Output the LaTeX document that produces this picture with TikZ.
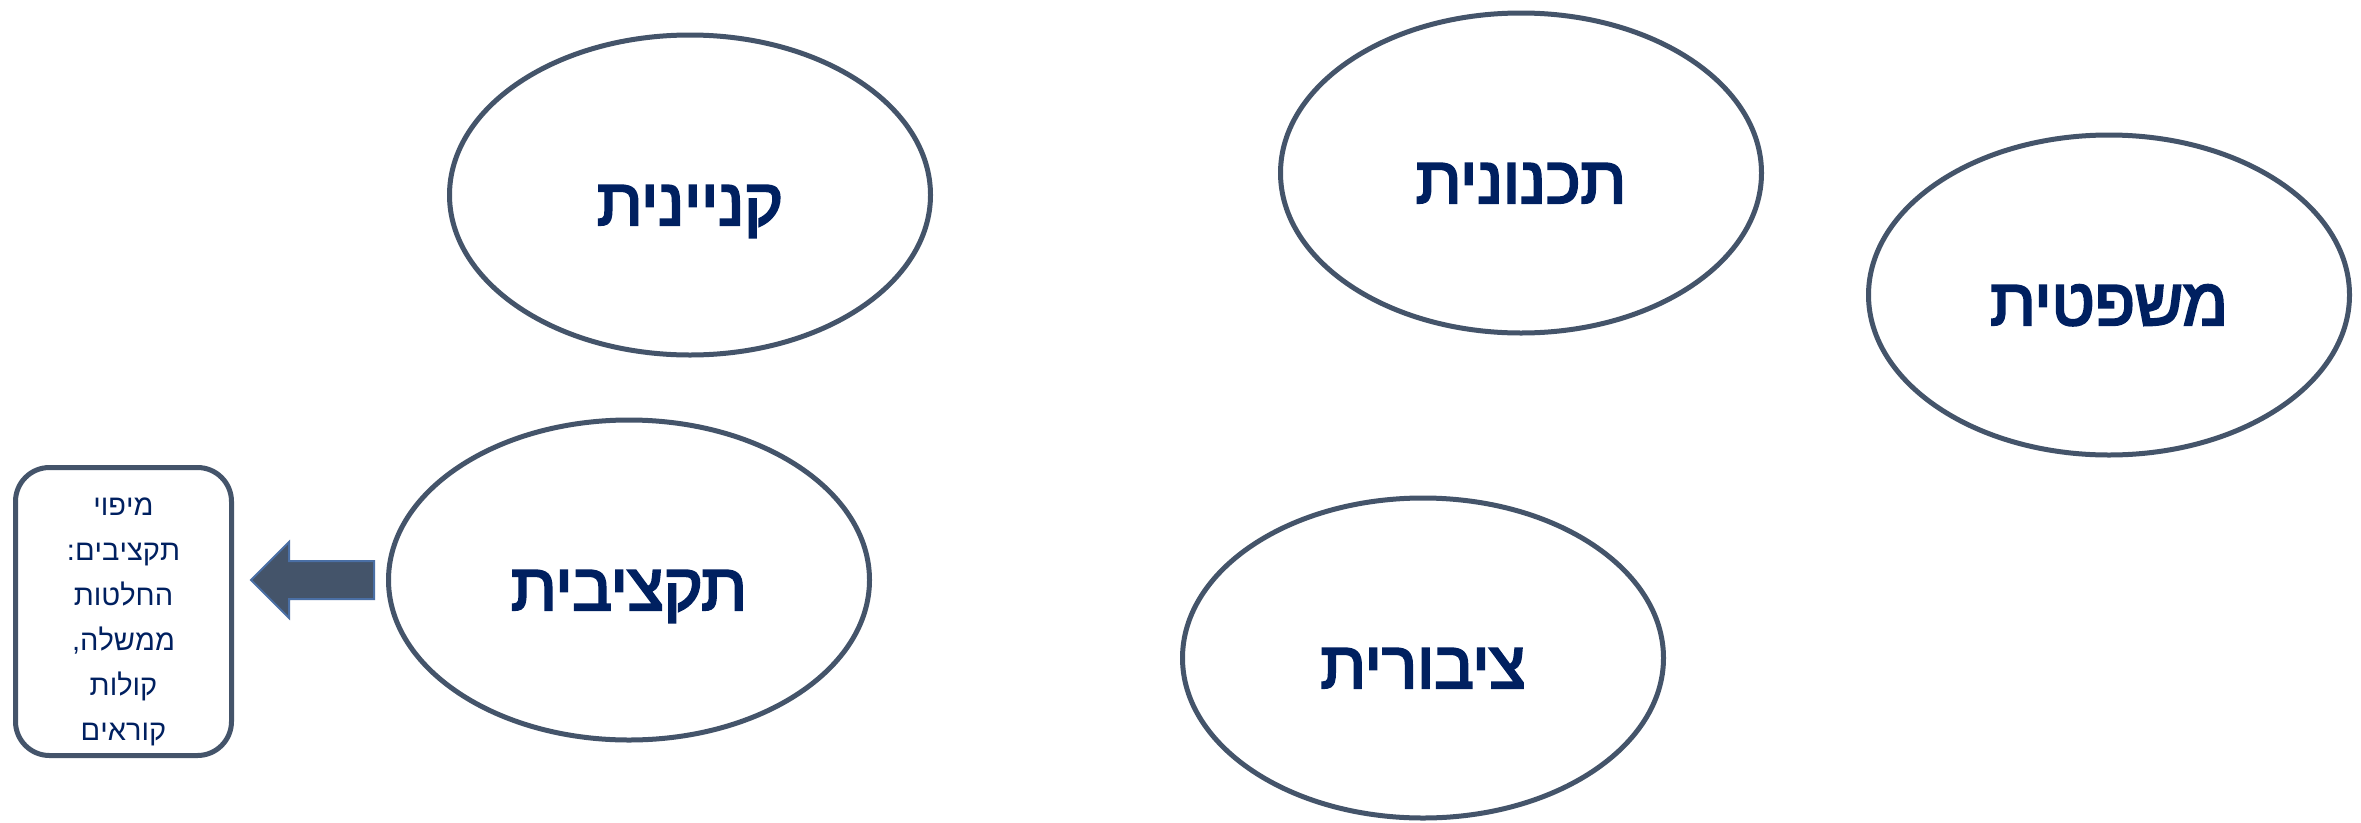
\documentclass[tikz,border=0pt]{standalone}
\usepackage{fontspec}
\setmainfont{Liberation Sans}
\newfontfamily\titlefont[Script=Hebrew, FakeBold=3.5]{Liberation Sans}
\TeXXeTstate=1
\usetikzlibrary{shapes.geometric}
\definecolor{edge}{HTML}{44546A}
\definecolor{navy}{HTML}{002060}
\definecolor{arrline}{HTML}{4A6FA5}
\newcommand{\ovaltext}[1]{\beginR #1\endR}
\tikzset{
 oval/.style={ellipse, draw=edge, line width=5pt, fill=white, minimum width=481pt, minimum height=320pt, inner sep=0pt, text=navy, text height=60pt, text depth=0pt, font=\titlefont\fontsize{66}{72}\selectfont},
 notebox/.style={draw=edge, line width=5pt, rounded corners=34pt, minimum width=216pt, minimum height=288pt, inner sep=0pt},
 notetext/.style={text=navy, align=center, font=\fontsize{29}{45}\selectfont, inner sep=0pt},
 blockarrow/.style={fill=edge, draw=arrline, line width=2pt}
}
\begin{document}
\begin{tikzpicture}[x=1pt,y=-1pt]
\useasboundingbox (0,0) rectangle (2361,822);
\fill[white] (0,0) rectangle (2361,822);
\node[oval] (kn) at (690,195) {\ovaltext{קניינית}};
\node[oval] (tk) at (1521,173) {\ovaltext{תכנונית}};
\node[oval] (ms) at (2109,295) {\ovaltext{משפטית}};
\node[oval] (tq) at (629,580) {\ovaltext{תקציבית}};
\node[oval] (tz) at (1423,658) {\ovaltext{ציבורית}};
\node[notebox] (map) at (123.5,611.5) {};
\node[notetext] (maptext) at ([yshift=-10pt]map.center) {\beginR מיפוי\endR\\ \beginR תקציבים:\endR\\ \beginR החלטות\endR\\ \beginR ממשלה,\endR\\ \beginR קולות\endR\\ \beginR קוראים\endR};
\draw[blockarrow] (374,561) -- (289,561) -- (289,542) -- (251,580) -- (289,618) -- (289,599) -- (374,599) -- cycle;
\end{tikzpicture}
\end{document}
